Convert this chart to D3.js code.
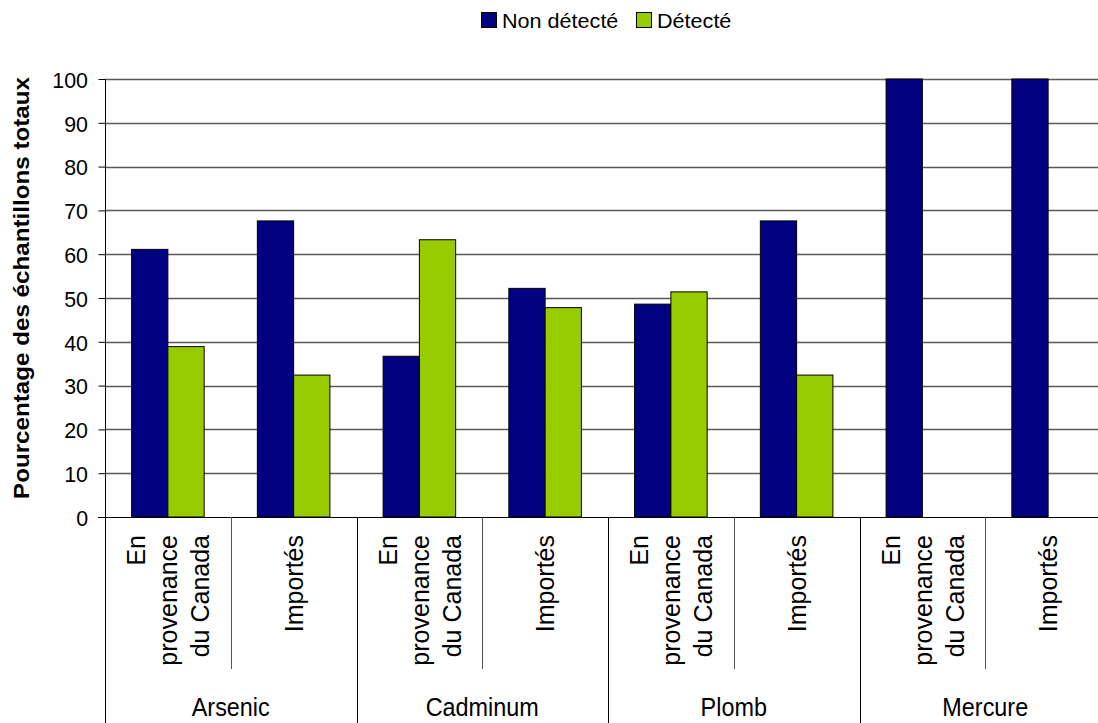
<!DOCTYPE html>
<html>
<head>
<meta charset="utf-8">
<script src="https://cdn.jsdelivr.net/npm/d3@7"></script>
<style>
  html, body { margin: 0; padding: 0; background: #fff; }
  svg { display: block; font-family: "Liberation Sans", Arial, sans-serif; }
</style>
</head>
<body>
<svg id="chart" width="1098" height="723"></svg>
<script>
// Metals and origins
const groups = ["Arsenic", "Cadminum", "Plomb", "Mercure"];
const origins = [["En", "provenance", "du Canada"], ["Importés"]];
const seriesNames = ["Non détecté", "Détecté"];
const seriesColors = ["#000080", "#99CC00"];

// Percent of total samples, one entry per metal × origin
const nonDetecte = [61.1, 67.6, 36.7, 52.2, 48.6, 67.6, 100, 100];
const detecte    = [38.9, 32.4, 63.3, 47.8, 51.4, 32.4, 0, 0];
const yTicks = [0, 10, 20, 30, 40, 50, 60, 70, 80, 90, 100];

const svg = d3.select("#chart");
const plotLeft = 105, plotRight = 1111, plotTop = 79, plotBottom = 517;

// one slot per (metal, origin) pair
const slots = [];
groups.forEach((g, gi) => origins.forEach((o, oi) => slots.push({ g, gi, o, oi, i: slots.length })));

const x = d3.scaleBand().domain(slots.map(s => s.i)).range([plotLeft, plotRight]).padding(0);
const inner = d3.scaleBand().domain(seriesNames)
  .range([x.bandwidth() * 0.2115, x.bandwidth() * 0.7885]).padding(0);
const y = d3.scaleLinear().domain([0, 100]).range([plotBottom, plotTop]);

// horizontal gridlines
svg.append("g").selectAll("line").data(yTicks.filter(t => t > 0)).join("line")
  .attr("x1", plotLeft).attr("x2", plotRight)
  .attr("y1", d => Math.round(y(d)) + 0.5).attr("y2", d => Math.round(y(d)) + 0.5)
  .attr("stroke", "#5a5a5a").attr("stroke-width", 1.6);

// bars
const barData = [];
slots.forEach(s => {
  barData.push({ s, name: seriesNames[0], v: nonDetecte[s.i], c: seriesColors[0] });
  barData.push({ s, name: seriesNames[1], v: detecte[s.i], c: seriesColors[1] });
});
svg.append("g").selectAll("rect").data(barData.filter(d => d.v > 0)).join("rect")
  .attr("x", d => x(d.s.i) + inner(d.name))
  .attr("y", d => y(d.v))
  .attr("width", inner.bandwidth())
  .attr("height", d => y(0) - y(d.v))
  .attr("fill", d => d.c)
  .attr("stroke", "#000").attr("stroke-width", 1);

// y axis (labels are slightly condensed)
const tickSx = 0.93;
const yAxis = svg.append("g").attr("transform", `translate(${plotLeft + 0.5},0)`)
  .call(d3.axisLeft(y).tickValues(yTicks).tickSize(7).tickPadding(10).tickFormat(d3.format("d")));
yAxis.select(".domain").attr("stroke", "#000").attr("d", `M0,${plotTop}V${plotBottom}`);
yAxis.selectAll(".tick line").attr("stroke", "#000");
yAxis.selectAll(".tick text").attr("font-size", 23).attr("fill", "#000")
  .attr("font-family", "Liberation Sans, Arial, sans-serif")
  .attr("x", -17.5 / tickSx).attr("transform", `scale(${tickSx},1)`)
  .attr("dy", "0.36em");

// baseline
svg.append("line").attr("x1", plotLeft - 7).attr("x2", plotRight)
  .attr("y1", plotBottom + 0.5).attr("y2", plotBottom + 0.5).attr("stroke", "#000");

// y axis title
svg.append("text")
  .attr("transform", "translate(29,288) rotate(-90) scale(1.1,1)")
  .attr("text-anchor", "middle").attr("font-size", 22).attr("font-weight", "bold")
  .text("Pourcentage des échantillons totaux");

// origin separators (inner) and metal separators (outer)
svg.append("g").selectAll("line").data(slots.filter(s => s.oi === 1)).join("line")
  .attr("x1", d => Math.round(x(d.i)) + 0.5).attr("x2", d => Math.round(x(d.i)) + 0.5)
  .attr("y1", plotBottom).attr("y2", 669).attr("stroke", "#555");
svg.append("g").selectAll("line").data(d3.range(groups.length + 1)).join("line")
  .attr("x1", d => Math.round(x(d * 2) ?? plotRight) + 0.5).attr("x2", d => Math.round(x(d * 2) ?? plotRight) + 0.5)
  .attr("y1", plotBottom).attr("y2", 723).attr("stroke", "#000");

// origin labels, rotated
const lineGap = 32;
svg.append("g").selectAll("text").data(slots).join("text")
  .attr("transform", d => {
    const cx = x(d.i) + x.bandwidth() / 2;
    return `translate(${cx},535) rotate(-90)`;
  })
  .attr("text-anchor", "end").attr("font-size", 25)
  .each(function (d) {
    const n = d.o.length;
    d3.select(this).selectAll("tspan").data(d.o).join("tspan")
      .attr("x", 0)
      .attr("y", (t, k) => (k - (n - 1) / 2) * lineGap)
      .attr("dy", "0.37em")
      .text(t => t);
  });

// metal labels
svg.append("g").selectAll("text").data(groups).join("text")
  .attr("transform", (g, gi) => `translate(${x(gi * 2) + x.bandwidth()},716) scale(0.9,1)`)
  .attr("text-anchor", "middle").attr("font-size", 26)
  .text(g => g);

// legend
const legend = svg.append("g").attr("transform", "translate(481,12)");
const legendItems = [{ name: seriesNames[0], c: seriesColors[0], dx: 0 }, { name: seriesNames[1], c: seriesColors[1], dx: 155 }];
const li = legend.selectAll("g").data(legendItems).join("g").attr("transform", d => `translate(${d.dx},0)`);
li.append("rect").attr("x", 0.5).attr("y", 0.5).attr("width", 15).attr("height", 15)
  .attr("fill", d => d.c).attr("stroke", "#000");
li.append("text").attr("transform", "translate(21,16) scale(1.08,1)").attr("font-size", 20)
  .text(d => d.name);
</script>
</body>
</html>
